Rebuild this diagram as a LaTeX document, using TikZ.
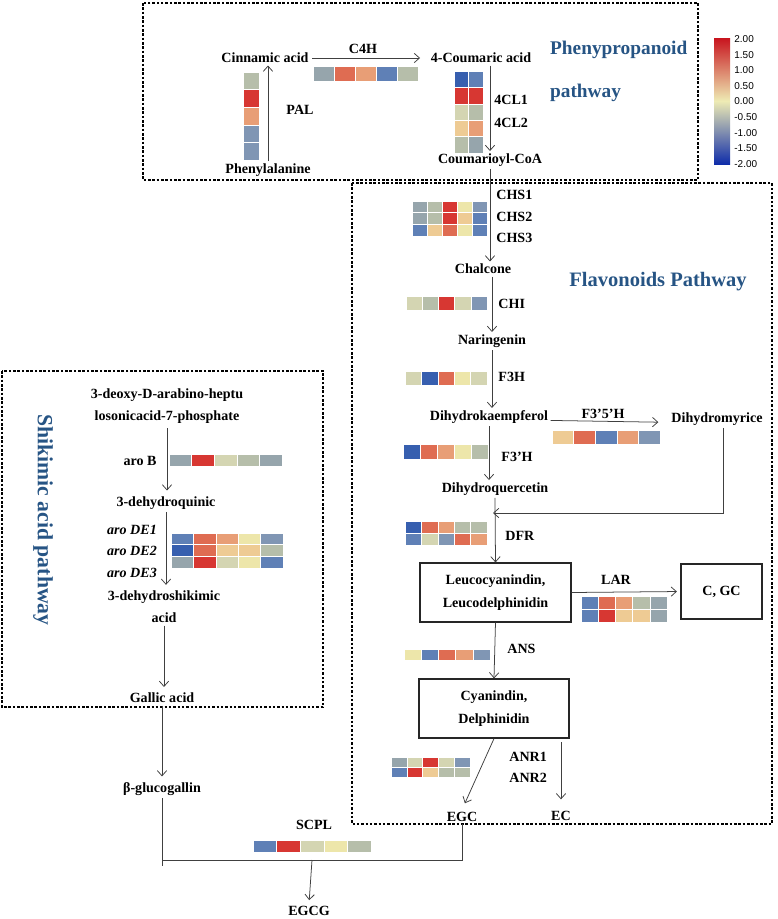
\documentclass[tikz,border=0pt]{standalone}
\usepackage{fontspec}
\setmainfont{Liberation Serif}
\newfontfamily\cbarfont{Liberation Sans}
\usetikzlibrary{arrows.meta}

% heat map: x, y (top left), cell width, cell height, rows of colours
\newcommand{\drawheat}[5]{%
  \foreach \hrow [count=\hi] in {#5} {%
    \foreach \hcell [count=\hj] in \hrow {%
      \fill[fill=\hcell, draw=white, line width=0.4pt] ({#1+(\hj-1)*#3},{#2+(\hi-1)*#4}) rectangle ++(#3,#4);
    }%
  }%
}

\begin{document}
\begin{tikzpicture}[x=0.03cm, y=-0.03cm]

        \definecolor{titleblue}{RGB}{38, 84, 132}
        \definecolor{hmDB}{RGB}{55, 95, 175}
        \definecolor{hmMB}{RGB}{95, 128, 182}
        \definecolor{hmLB}{RGB}{128, 150, 180}
        \definecolor{hmGR}{RGB}{150, 165, 172}
        \definecolor{hmGG}{RGB}{182, 190, 170}
        \definecolor{hmPG}{RGB}{212, 213, 178}
        \definecolor{hmYE}{RGB}{237, 230, 170}
        \definecolor{hmLO}{RGB}{238, 203, 148}
        \definecolor{hmOR}{RGB}{232, 158, 118}
        \definecolor{hmRO}{RGB}{223, 108, 82}
        \definecolor{hmRD}{RGB}{215, 55, 50}
        \definecolor{cbTop}{RGB}{200, 20, 30}
        \definecolor{cbMid}{RGB}{238, 235, 180}
        \definecolor{cbBot}{RGB}{15, 45, 170}
        \tikzset{
            metab/.style={font=\bfseries\fontsize{12}{19}\selectfont, align=center, inner sep=2pt},
            enzyme/.style={font=\bfseries\fontsize{12}{14}\selectfont, inner sep=1pt},
            ebox/.style={draw=black!85, line width=1pt, font=\bfseries\fontsize{12}{20}\selectfont, align=center},
            title/.style={text=titleblue, font=\bfseries\fontsize{17}{20}\selectfont},
            cbtick/.style={anchor=west, font=\cbarfont\fontsize{8.5}{10}\selectfont, inner sep=1pt},
            pathbox/.style={draw=black, line width=2.4pt, dash pattern=on 2.2pt off 1.5pt},
            arrow/.style={-{Straight Barb[length=4.5pt,width=8pt]}, line width=0.65pt, draw=black!75},
            line/.style={line width=0.65pt, draw=black!75}
        }

        \useasboundingbox (0,0) rectangle (777,919);

        % frames of the three pathways
        \draw[pathbox] (143,3) rectangle (698,180);
        \draw[pathbox] (352,183) rectangle (772,824);
        \draw[pathbox] (2,371) rectangle (323,707);

        \node[title, anchor=west, font=\bfseries\fontsize{16.5}{20}\selectfont] (tphen) at (546,50) {Phenypropanoid};
        \node[title, anchor=west, font=\bfseries\fontsize{16.5}{20}\selectfont] (tphen2) at (546,93) {pathway};
        \node[title, font=\bfseries\fontsize{17.5}{20}\selectfont] (tflav) at (658,282) {Flavonoids Pathway};
        \node[title, rotate=-90, font=\bfseries\fontsize{18.5}{20}\selectfont] (tshik) at (43,520) {Shikimic acid pathway};

        % colour scale
        \shade[top color=cbTop, bottom color=cbMid] (714,38) rectangle (730,101);
        \shade[top color=cbMid, bottom color=cbBot] (714,101) rectangle (730,164);
        \foreach \v [count=\i from 0] in {2.00,1.50,1.00,0.50,0.00,-0.50,-1.00,-1.50,-2.00}
            \node[cbtick] (cb\i) at (733,{39+\i*15.6}) {\v};


        % phenylpropanoid pathway
        \node[metab] (cin) at (265,58) {Cinnamic acid};
        \node[metab] (cou) at (481,58) {4-Coumaric acid};
        \node[metab] (phe) at (268,170) {Phenylalanine};
        \node[metab] (coa) at (490,160) {Coumarioyl-CoA};

        \node[enzyme] (pal) at (300,110) {PAL};
        \node[enzyme] (c4h) at (363,49) {C4H};
        \node[enzyme, anchor=west] (cl1) at (493,100) {4CL1};
        \node[enzyme, anchor=west] (cl2) at (493,123) {4CL2};

        \drawheat{243}{72}{16}{17.6}{hmGG,hmRD,hmOR,hmLB,hmLB}
        \drawheat{313}{66}{21}{15}{{hmGR,hmRO,hmOR,hmMB,hmGG}}
        \drawheat{454}{71}{14.5}{16.4}{{hmDB,hmMB},{hmRD,hmRD},{hmPG,hmGG},{hmLO,hmOR},{hmGG,hmGR}}

        \draw[arrow] (phe.north) -- (phe.north |- cin.south);
        \draw[arrow, shorten <=1pt, shorten >=7pt] (cin.east) -- (cou.west);
        \draw[arrow] (coa.north |- cou.south) -- (coa.north);


        % flavonoids pathway
        \node[metab] (chal) at (483,269) {Chalcone};
        \node[metab] (nar) at (492,341) {Naringenin};
        \node[metab] (dhk) at (489,417) {Dihydrokaempferol};
        \node[metab] (dhm) at (717,419) {Dihydromyrice};
        \node[metab] (dhq) at (495,489) {Dihydroquercetin};
        \node[ebox, minimum width=151*0.03cm, minimum height=59*0.03cm] (leuco) at (495.5,592.5) {Leucocyanindin,\\Leucodelphinidin};
        \node[ebox, minimum width=81*0.03cm, minimum height=55*0.03cm] (cgc) at (721.5,591.5) {C, GC};
        \node[ebox, minimum width=150*0.03cm, minimum height=59*0.03cm] (cyan) at (494,708.5) {Cyanindin,\\Delphinidin};
        \node[metab] (egc) at (462,817) {EGC};
        \node[metab] (ec) at (561,816) {EC};

        \node[enzyme, anchor=west] (chs1) at (495,195) {CHS1};
        \node[enzyme, anchor=west] (chs2) at (495,217) {CHS2};
        \node[enzyme, anchor=west] (chs3) at (495,238) {CHS3};
        \node[enzyme, anchor=west] (chi) at (497,304) {CHI};
        \node[enzyme, anchor=west] (f3h) at (497,377) {F3H};
        \node[enzyme] (f35h) at (603,414) {F3’5’H};
        \node[enzyme, anchor=west] (f3ph) at (500,457) {F3’H};
        \node[enzyme, anchor=west] (dfr) at (504,536) {DFR};
        \node[enzyme] (lar) at (616,580) {LAR};
        \node[enzyme, anchor=west] (ans) at (506,649) {ANS};
        \node[enzyme, anchor=west] (anr1) at (508,757) {ANR1};
        \node[enzyme, anchor=west] (anr2) at (508,778) {ANR2};

        \drawheat{412}{201}{15}{11.7}{{hmGR,hmGG,hmRD,hmYE,hmLB},{hmGR,hmGG,hmRD,hmLO,hmMB},{hmMB,hmLO,hmRO,hmYE,hmMB}}
        \drawheat{406}{296}{16.2}{14}{{hmPG,hmGG,hmRD,hmPG,hmLB}}
        \drawheat{405}{371}{16.4}{14}{{hmPG,hmDB,hmRO,hmYE,hmPG}}
        \drawheat{552}{430}{21.6}{14}{{hmLO,hmRO,hmMB,hmOR,hmLB}}
        \drawheat{403}{444}{17}{15}{{hmDB,hmRO,hmOR,hmYE,hmGG}}
        \drawheat{405}{521}{16.4}{12}{{hmDB,hmRO,hmOR,hmGG,hmGG},{hmMB,hmPG,hmLB,hmRO,hmOR}}
        \drawheat{581}{596}{17.2}{13}{{hmMB,hmRO,hmOR,hmGG,hmGR},{hmMB,hmRD,hmLO,hmLO,hmGR}}
        \drawheat{404}{649}{17.2}{11.5}{{hmYE,hmMB,hmRO,hmOR,hmLB}}
        \drawheat{391}{757}{15.8}{10}{{hmGR,hmPG,hmRD,hmPG,hmLB},{hmMB,hmRD,hmLO,hmGG,hmGG}}

        \coordinate (merge) at (493,513);

        \draw[arrow] (coa.south) -- (coa.south |- chal.north);
        \draw[arrow] (nar.north |- chal.south) -- (nar.north);
        \draw[arrow] (nar.south) -- (nar.south |- dhk.north);
        \draw[arrow, shorten >=9pt] (dhk.base east) -- (dhm.base west);
        \draw[arrow] (dhk.south) -- (dhk.south |- dhq.north);
        \draw[arrow] (dhm.south) ++(6,0) |- (merge);
        \draw[arrow] (dhq.south) -- (leuco.north);
        \draw[arrow, shorten >=3pt] (leuco.east) -- (cgc.west);
        \draw[arrow] (leuco.south) -- (cyan.north);
        \draw[arrow, shorten >=6pt] (cyan.south) -- (egc.north);
        \draw[arrow, shorten <=3pt, shorten >=8pt] (ec.north |- cyan.south) -- (ec.north);


        % shikimic acid pathway
        \node[metab] (dahp) at (167,406) {3-deoxy-D-arabino-heptu\\losonicacid-7-phosphate};
        \node[metab] (dhqn) at (166,503) {3-dehydroquinic};
        \node[metab] (dhs) at (164,607) {3-dehydroshikimic\\acid};
        \node[metab] (gal) at (162,698) {Gallic acid};
        \node[metab] (bglu) at (162,789) {β-glucogallin};
        \node[metab] (egcg) at (309,911) {EGCG};

        \node[enzyme] (arob) at (140,461) {aro B};
        \node[enzyme] (arode1) at (132,530) {\itshape aro DE1};
        \node[enzyme] (arode2) at (132,551) {\itshape aro DE2};
        \node[enzyme] (arode3) at (132,573) {\itshape aro DE3};
        \node[enzyme] (scpl) at (314,825) {SCPL};

        \drawheat{169}{454}{22.6}{12}{{hmGR,hmRD,hmPG,hmGG,hmGR}}
        \drawheat{171}{533}{22.4}{11.7}{{hmMB,hmRO,hmOR,hmYE,hmLB},{hmDB,hmRO,hmLO,hmLO,hmGG},{hmGR,hmRD,hmPG,hmYE,hmMB}}
        \drawheat{253}{840}{23.6}{12}{{hmMB,hmRD,hmPG,hmYE,hmGG}}

        \coordinate (sjoin) at (312,860);

        \draw[arrow, shorten <=2pt, shorten >=3pt] (dahp.south) -- (dahp.south |- dhqn.north);
        \draw[arrow, shorten >=3pt] (dhqn.south) -- (dhqn.south |- dhs.north);
        \draw[arrow, shorten >=3pt] (dhs.south) -- (dhs.south |- gal.north);
        \draw[arrow, shorten >=3pt] (gal.south) -- (gal.south |- bglu.north);
        \draw[line] (bglu.south) |- (sjoin -| egc.south) -- (egc.south);
        \draw[line] (bglu.south |- sjoin) -- ++(0,6);
        \draw[arrow, shorten >=3pt] (sjoin) -- (egcg.north);

    \end{tikzpicture}
\end{document}
